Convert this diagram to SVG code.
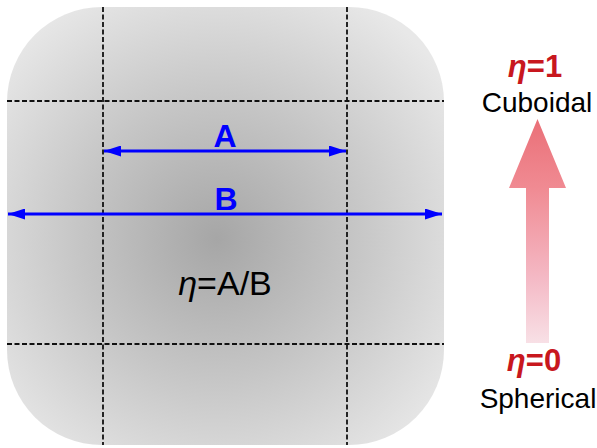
<svg xmlns="http://www.w3.org/2000/svg" width="597" height="448" viewBox="0 0 597 448">
  <style>
    .grid { stroke: #111; stroke-width: 1.8; stroke-dasharray: 5 2.5; fill: none; }
    .dim { stroke: #0000ff; stroke-width: 3; fill: none; }
    .dimlabel { font-family: "Liberation Sans", Arial, sans-serif; font-weight: bold; font-size: 32px; fill: #0000ff; text-anchor: middle; }
    .eta { font-family: "Liberation Sans", Arial, sans-serif; font-weight: bold; font-size: 31px; fill: #c8171e; text-anchor: middle; }
    .shape-name { font-family: "Liberation Sans", Arial, sans-serif; font-size: 28px; fill: #000; text-anchor: middle; }
    .ratio { font-family: "Liberation Sans", Arial, sans-serif; font-size: 34px; fill: #000; text-anchor: middle; }
  </style>
  <defs>
    <radialGradient id="bodyShade" cx="48%" cy="53%" r="64%">
      <stop offset="0" stop-color="#a6a6a6"/>
      <stop offset="0.5" stop-color="#c6c6c6"/>
      <stop offset="1" stop-color="#e8e8e8"/>
    </radialGradient>
    <linearGradient id="trendFill" x1="0" y1="120" x2="0" y2="343" gradientUnits="userSpaceOnUse">
      <stop offset="0" stop-color="#ea7078"/>
      <stop offset="0.3" stop-color="#f08a92"/>
      <stop offset="0.7" stop-color="#f4b8c4"/>
      <stop offset="1" stop-color="#f8e0e6"/>
    </linearGradient>
    <marker id="head" viewBox="0 0 17 11" refX="17" refY="5.5" markerWidth="17" markerHeight="11" markerUnits="userSpaceOnUse" orient="auto-start-reverse">
      <path d="M0,0 L17,5.5 L0,11 Z" fill="#0000ff"/>
    </marker>
  </defs>

  <!-- rounded-cube particle -->
  <g id="particle">
    <rect x="7" y="7" width="437" height="438" rx="95" ry="95" fill="url(#bodyShade)"/>
  </g>

  <!-- dashed construction grid -->
  <g id="grid">
    <line class="grid" x1="103" y1="7" x2="103" y2="445"/>
    <line class="grid" x1="347" y1="7" x2="347" y2="445"/>
    <line class="grid" x1="7" y1="101" x2="444" y2="101"/>
    <line class="grid" x1="7" y1="344" x2="444" y2="344"/>
  </g>

  <!-- dimension arrows -->
  <g id="connectors">
    <line class="dim" x1="104" y1="151" x2="346" y2="151" marker-start="url(#head)" marker-end="url(#head)"/>
    <line class="dim" x1="8" y1="214" x2="442" y2="214" marker-start="url(#head)" marker-end="url(#head)"/>
  </g>

  <g id="label-A">
    <text class="dimlabel" x="225" y="147">A</text>
  </g>
  <g id="label-B">
    <text class="dimlabel" x="226" y="210">B</text>
  </g>

  <g id="ratio">
    <text class="ratio" x="225" y="295"><tspan font-style="italic">η</tspan>=A/B</text>
  </g>

  <!-- shape factor scale -->
  <g id="trend-arrow">
    <path d="M537.5,119 L566,188 L549,188 L549,343 L526,343 L526,188 L509,188 Z" fill="url(#trendFill)"/>
  </g>
  <g id="cuboidal">
    <text class="eta" x="535" y="77"><tspan font-style="italic">η</tspan>=1</text>
    <text class="shape-name" x="537" y="112">Cuboidal</text>
  </g>
  <g id="spherical">
    <text class="eta" x="534" y="371"><tspan font-style="italic">η</tspan>=0</text>
    <text class="shape-name" x="538" y="408">Spherical</text>
  </g>
</svg>
